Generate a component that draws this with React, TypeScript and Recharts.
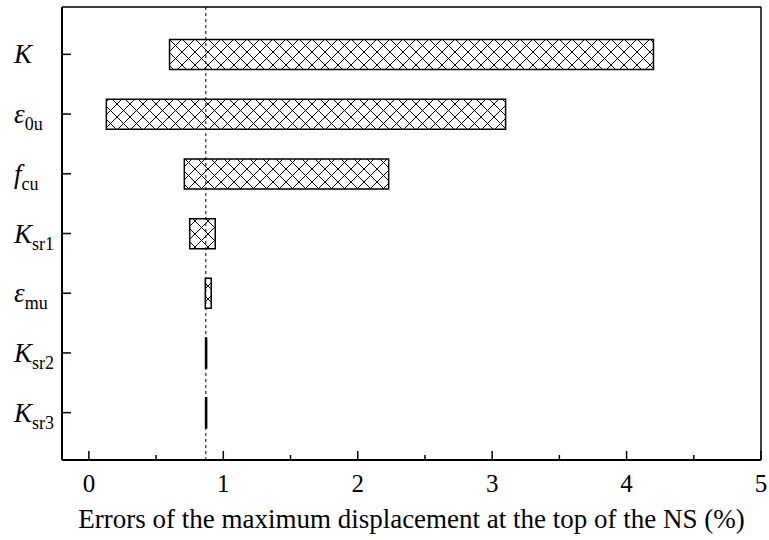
import React from 'react';
import { BarChart, Bar, XAxis, YAxis, ReferenceLine } from 'recharts';

// parameters (top to bottom) and the error range each one produces
const categories = ['K', 'ε0u', 'fcu', 'Ksr1', 'εmu', 'Ksr2', 'Ksr3'];
const symbols = ['K', 'ε', 'f', 'K', 'ε', 'K', 'K'];
const subscripts = ['', '0u', 'cu', 'sr1', 'mu', 'sr2', 'sr3'];
const lowErrors = [0.6, 0.13, 0.71, 0.75, 0.866, 0.868, 0.868];
const highErrors = [4.2, 3.1, 2.23, 0.94, 0.91, 0.876, 0.876];
const baseError = 0.87;
const xTicks = [0, 0.5, 1, 1.5, 2, 2.5, 3, 3.5, 4, 4.5, 5];

const W = 769;
const H = 540;
const PLOT_LEFT = 62;
const PLOT_TOP = 7;
const PLOT_BOTTOM = 460;
const FONT = '"Liberation Serif", "Times New Roman", serif';

const data = categories.map((name, i) => ({
    name,
    base: lowErrors[i],
    span: highErrors[i] - lowErrors[i],
}));

const XTick = (props: any) => {
    const { x, payload } = props;
    const major = Number.isInteger(payload.value);
    return (
        <g>
            <line x1={x} x2={x} y1={PLOT_BOTTOM} y2={PLOT_BOTTOM - (major ? 9 : 5)} stroke="#000" strokeWidth={1.5} />
            {major && (
                <text x={x} y={PLOT_BOTTOM + 32} textAnchor="middle" fontFamily={FONT} fontSize={25} fill="#000">
                    {payload.value}
                </text>
            )}
        </g>
    );
};

const YTick = (props: any) => {
    const { y, payload } = props;
    const i = payload.index;
    return (
        <g>
            <line x1={PLOT_LEFT} x2={PLOT_LEFT + 9} y1={y} y2={y} stroke="#000" strokeWidth={1.5} />
            <text x={14} y={y + 9} fontFamily={FONT} fill="#000">
                <tspan fontSize={27} fontStyle="italic">{symbols[i]}</tspan>
                {subscripts[i] && <tspan fontSize={18} dy={7}>{subscripts[i]}</tspan>}
            </text>
        </g>
    );
};

const App: React.FC = () => {
    return (
        <div style={{ position: 'absolute', left: 0, top: 0, width: W, height: H, background: '#fff' }}>
            <BarChart
                width={W}
                height={H}
                data={data}
                layout="vertical"
                margin={{ top: PLOT_TOP - 1, right: 8, left: 0, bottom: 0 }}
                barSize={30}
            >
                <defs>
                    <pattern id="hatch" width="13" height="13" patternUnits="userSpaceOnUse">
                        <rect width="13" height="13" fill="#fff" />
                        <path d="M-1,-1 L14,14 M14,-1 L-1,14" stroke="#000" strokeWidth={1} />
                    </pattern>
                </defs>
                <XAxis
                    type="number"
                    domain={[-0.2, 5]}
                    ticks={xTicks}
                    interval={0}
                    allowDataOverflow
                    height={H - PLOT_BOTTOM}
                    axisLine={{ stroke: '#000', strokeWidth: 2 }}
                    tickLine={false}
                    tick={<XTick />}
                    label={{
                        value: 'Errors of the maximum displacement at the top of the NS (%)',
                        position: 'insideBottom',
                        offset: 12,
                        fontFamily: FONT,
                        fontSize: 27,
                        fill: '#000',
                    }}
                />
                <XAxis
                    xAxisId="top"
                    orientation="top"
                    type="number"
                    domain={[-0.2, 5]}
                    allowDataOverflow
                    height={1}
                    tick={false}
                    tickLine={false}
                    axisLine={{ stroke: '#000', strokeWidth: 1.5 }}
                />
                <YAxis
                    type="category"
                    dataKey="name"
                    width={PLOT_LEFT}
                    padding={{ top: 17.5, bottom: 17.5 }}
                    axisLine={{ stroke: '#000', strokeWidth: 2 }}
                    tickLine={false}
                    tick={<YTick />}
                    interval={0}
                />
                <Bar dataKey="base" stackId="r" fill="none" stroke="none" isAnimationActive={false} />
                <Bar dataKey="span" stackId="r" fill="url(#hatch)" stroke="#000" strokeWidth={1.5} isAnimationActive={false} />
                <ReferenceLine x={baseError} stroke="#000" strokeWidth={1} strokeDasharray="3 3" />
                <ReferenceLine x={5} stroke="#000" strokeWidth={1.5} />
            </BarChart>
        </div>
    );
};

export default App;
